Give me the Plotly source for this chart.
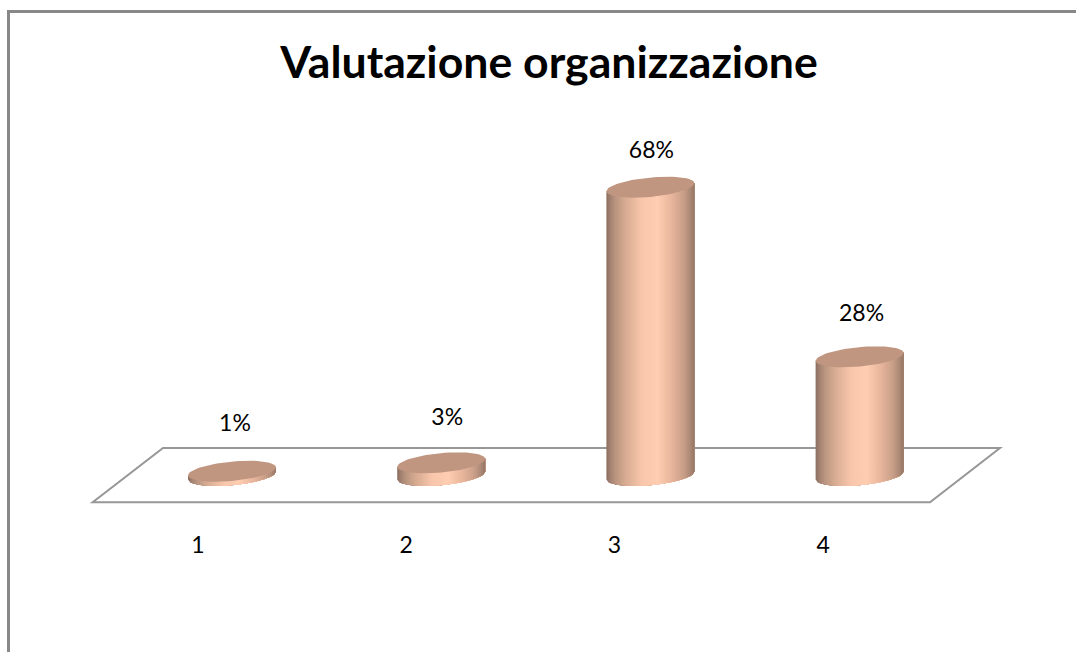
import numpy as np
import plotly.graph_objects as go

# ---- data
categories = [1, 2, 3, 4]
values = [1, 3, 68, 28]
value_labels = ["1%", "3%", "68%", "28%"]
tick_labels = ["1", "2", "3", "4"]
title_text = "Valutazione organizzazione"

# ---- styling / label placement (not data)
W, H = 1076, 652
X_PX_FIRST, X_PX_STEP = 232.0, 209.2      # pixel of category 1, pixels per category
Y_PX_ZERO, Y_PX_PER_UNIT = 475.5, 4.24    # pixel of value 0, pixels per percentage point
label_dx_px = [3, 6, 1, 2]
label_dy_px = [46, 44, 35, 42]
tick_dx_px = [-34, -35, -36, -36.5]

HALF_W = 44 / X_PX_STEP
SHEAR = 4 / Y_PX_PER_UNIT
RAD = 9.7 / Y_PX_PER_UNIT

TOP_COLOR = "#c09680"
stops_u = [0.0, 0.04, 0.10, 0.22, 0.40, 0.58, 0.75, 0.88, 0.95, 1.0]
stops_c = ["#8a6d5e", "#a08070", "#b8947f", "#d8ac92", "#f8c6ab", "#ffcdb2",
           "#e6b49a", "#c89e88", "#ac8a76", "#957564"]
BANDS = 44
FONT = "Lato"


def hex2rgb(h):
    return np.array([int(h[i:i + 2], 16) for i in (1, 3, 5)], dtype=float)


def band_color(u):
    rgb = [np.interp(u, stops_u, [hex2rgb(c)[k] for c in stops_c]) for k in range(3)]
    return "rgb(%d,%d,%d)" % tuple(int(round(v)) for v in rgb)


fig = go.Figure()

# cylinder bodies: one trace per gradient band, painted left to right
for i in range(BANDS):
    u0 = i / BANDS
    xs, ys = [], []
    for cat, val in zip(categories, values):
        c = np.linspace(2 * u0 - 1, 1, max(2, BANDS - i + 1))
        x = cat + HALF_W * c
        lower = SHEAR * c - RAD * np.sqrt(np.clip(1 - c ** 2, 0, 1))
        upper = val + SHEAR * c
        xs += list(x) + list(x[::-1]) + [x[0], None]
        ys += list(lower) + list(upper[::-1]) + [lower[0], None]
    fig.add_trace(go.Scatter(
        x=xs, y=ys, mode="lines", fill="toself", fillcolor=band_color(u0 + 0.5 / BANDS),
        line=dict(width=0), hoverinfo="skip", showlegend=False))

# cylinder tops
t = np.linspace(0, 2 * np.pi, 73)
xs, ys = [], []
for cat, val in zip(categories, values):
    xs += list(cat + HALF_W * np.cos(t)) + [None]
    ys += list(val + SHEAR * np.cos(t) + RAD * np.sin(t)) + [None]
fig.add_trace(go.Scatter(
    x=xs, y=ys, mode="lines", fill="toself", fillcolor=TOP_COLOR,
    line=dict(width=0), hoverinfo="skip", showlegend=False))

# value labels
fig.add_trace(go.Scatter(
    x=[c + dx / X_PX_STEP for c, dx in zip(categories, label_dx_px)],
    y=[v + dy / Y_PX_PER_UNIT for v, dy in zip(values, label_dy_px)],
    mode="text", text=value_labels, textposition="middle center",
    textfont=dict(family=FONT, size=23, color="#000000"),
    hoverinfo="skip", showlegend=False))


def px(x):
    return x / W


def py(y):
    return 1 - y / H


floor = [(92.7, 502.3), (930, 502.3), (1000, 448), (163, 448)]
floor_path = "M " + " L ".join(f"{px(a):.5f},{py(b):.5f}" for a, b in floor) + " Z"
frame = [(8.5, 652), (8.5, 11.5), (1076, 11.5)]
frame_path = "M " + " L ".join(f"{px(a):.5f},{py(b):.5f}" for a, b in frame)

fig.update_layout(
    width=W, height=H, margin=dict(l=0, r=0, t=0, b=0),
    paper_bgcolor="#ffffff", plot_bgcolor="#ffffff", showlegend=False,
    title=dict(text="<b>" + title_text + "</b>", x=549 / W, xanchor="center",
               y=py(62), yanchor="middle",
               font=dict(family=FONT, size=44.6, color="#000000")),
    xaxis=dict(range=[1 - X_PX_FIRST / X_PX_STEP, 1 + (W - X_PX_FIRST) / X_PX_STEP],
               showgrid=False, zeroline=False, showline=False, ticks="",
               tickmode="array",
               tickvals=[c + dx / X_PX_STEP for c, dx in zip(categories, tick_dx_px)],
               ticktext=tick_labels, anchor="free", position=py(529),
               tickfont=dict(family=FONT, size=23, color="#000000")),
    yaxis=dict(range=[-(H - Y_PX_ZERO) / Y_PX_PER_UNIT, Y_PX_ZERO / Y_PX_PER_UNIT],
               showgrid=False, zeroline=False, showline=False, showticklabels=False,
               ticks=""),
    shapes=[
        dict(type="path", path=floor_path, xref="paper", yref="paper", layer="below",
             line=dict(color="#979797", width=2)),
        dict(type="path", path=frame_path, xref="paper", yref="paper", layer="below",
             line=dict(color="#888888", width=3)),
    ],
)

fig.write_html("out.html", config={"displayModeBar": False},
               post_script="document.body.style.margin='0';document.body.style.overflow='hidden';")
